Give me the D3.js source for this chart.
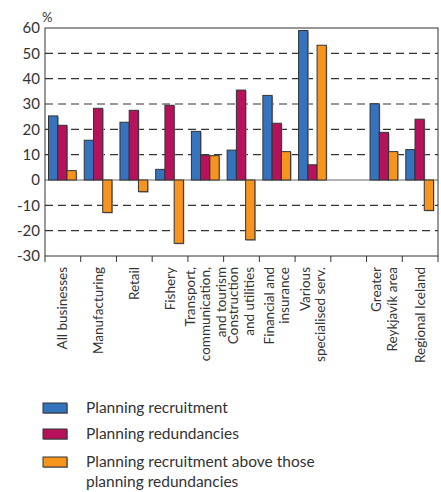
<!DOCTYPE html>
<head>
  <meta charset="utf-8">
  <script src="https://d3js.org/d3.v7.min.js"></script>
  <style>
    body { margin: 0; background: #fff; }
    text { font-family: Lato, "Open Sans", sans-serif; fill: #333; }
    .grid { stroke: #333; stroke-width: 1.2; stroke-dasharray: 8, 5; }
    .frame { fill: none; stroke: #333; stroke-width: 1; }
  </style>
</head>
<body>
  <svg id="chart" width="441" height="492"></svg>
  <script>
    var categories = [
      ['All businesses'],
      ['Manufacturing'],
      ['Retail'],
      ['Fishery'],
      ['Transport,', 'communication,', 'and tourism'],
      ['Construction', 'and utilities'],
      ['Financial and', 'insurance'],
      ['Various', 'specialised serv.'],
      [],
      ['Greater', 'Reykjavík area'],
      ['Regional Iceland']
    ];
    var recruitment = [25.3, 15.7, 22.8, 4.2, 19.2, 11.8, 33.4, 59.0, null, 30.1, 12.0];
    var redundancies = [21.6, 28.3, 27.5, 29.5, 9.8, 35.5, 22.4, 6.0, null, 18.8, 24.0];
    var balance = [3.7, -12.8, -4.6, -25.0, 9.6, -23.6, 11.2, 53.2, null, 11.2, -12.0];
    var yTicks = [-30, -20, -10, 0, 10, 20, 30, 40, 50, 60];
    var seriesNames = ['Planning recruitment', 'Planning redundancies', 'Planning recruitment above those planning redundancies'];
    var colors = ['#3673bf', '#b5125b', '#f7941d'];

    var chart = d3.select('#chart');
    var margin = { left: 45, right: 3, top: 28, bottom: 236 };
    var width = 441 - margin.left - margin.right;
    var height = 492 - margin.top - margin.bottom;

    var x = d3.scaleBand()
      .domain(categories.map((d, i) => i))
      .range([0, width]);

    var x1 = d3.scaleBand()
      .domain([0, 1, 2])
      .range([3.5, x.bandwidth() - 4.5]);

    var y = d3.scaleLinear()
      .domain([-30, 60])
      .range([height, 0]);

    var g = chart.append('g')
      .attr('transform', 'translate(' + margin.left + ',' + margin.top + ')');

    // dashed gridlines
    g.selectAll('.grid')
      .data(yTicks.filter((t) => t !== 0 && t !== 60 && t !== -30))
      .enter().append('line')
      .attr('class', 'grid')
      .attr('x1', 0).attr('x2', width)
      .attr('y1', (d) => y(d)).attr('y2', (d) => y(d));

    g.append('line')
      .attr('x1', 0).attr('x2', width)
      .attr('y1', y(0)).attr('y2', y(0))
      .attr('stroke', '#999').attr('stroke-width', 1.5);

    // y tick labels
    g.selectAll('.ytick')
      .data(yTicks)
      .enter().append('text')
      .attr('x', -5)
      .attr('y', (d) => y(d))
      .attr('dy', '0.36em')
      .attr('text-anchor', 'end')
      .style('font-size', '15px')
      .text((d) => d);

    g.append('text')
      .attr('x', -3).attr('y', -6)
      .style('font-size', '13px')
      .text('%');

    var series = [recruitment, redundancies, balance];
    var bars = [];
    series.forEach((s, k) => {
      s.forEach((v, i) => {
        if (v !== null) bars.push({ i: i, k: k, v: v });
      });
    });

    // shadow
    g.selectAll('.shadow')
      .data(bars)
      .enter().append('rect')
      .attr('x', (d) => x(d.i) + x1(d.k) + 1)
      .attr('y', (d) => Math.min(y(d.v), y(0)) + 1)
      .attr('width', x1.bandwidth())
      .attr('height', (d) => Math.abs(y(d.v) - y(0)))
      .attr('fill', '#aaa');

    g.selectAll('.bar')
      .data(bars)
      .enter().append('rect')
      .attr('x', (d) => x(d.i) + x1(d.k))
      .attr('y', (d) => Math.min(y(d.v), y(0)))
      .attr('width', x1.bandwidth())
      .attr('height', (d) => Math.abs(y(d.v) - y(0)))
      .attr('fill', (d) => colors[d.k])
      .attr('stroke', '#333')
      .attr('stroke-width', 1);

    // frame
    g.append('rect')
      .attr('class', 'frame')
      .attr('x', 0).attr('y', 0)
      .attr('width', width).attr('height', height);

    // category separators on the bottom axis
    var bounds = categories.map((d, i) => x(i)).concat([width]);
    g.selectAll('.xtick')
      .data(bounds)
      .enter().append('line')
      .attr('x1', (d) => d).attr('x2', (d) => d)
      .attr('y1', height).attr('y2', height + 6)
      .attr('stroke', '#333');

    // rotated category labels
    var labels = g.selectAll('.xlabel')
      .data(categories)
      .enter().append('g')
      .attr('transform', (d, i) => 'translate(' + (x(i) + x.bandwidth() / 2) + ',' + (height + 11) + ')');

    labels.each(function (lines) {
      var n = lines.length;
      d3.select(this).selectAll('text')
        .data(lines)
        .enter().append('text')
        .attr('transform', (t, j) => 'translate(' + ((j - (n - 1) / 2) * 15.5 + 4.5) + ',0) rotate(-90)')
        .attr('text-anchor', 'end')
        .style('font-size', '13.5px')
        .text((t) => t);
    });

    // legend
    var legend = chart.append('g')
      .attr('transform', 'translate(43,403)');

    var rows = [0, 26, 54];
    seriesNames.forEach((name, k) => {
      var row = legend.append('g').attr('transform', 'translate(0,' + rows[k] + ')');
      row.append('rect')
        .attr('x', 1).attr('y', 1)
        .attr('width', 24).attr('height', 10)
        .attr('fill', '#aaa');
      row.append('rect')
        .attr('width', 24).attr('height', 10)
        .attr('fill', colors[k])
        .attr('stroke', '#333');
      var t = row.append('text')
        .attr('x', 43).attr('y', 10)
        .style('font-size', '15.5px');
      if (k === 2) {
        t.append('tspan').attr('x', 43).text('Planning recruitment above those');
        t.append('tspan').attr('x', 43).attr('dy', 20).text('planning redundancies');
      } else {
        t.text(name);
      }
    });
  </script>
</body>
</html>
